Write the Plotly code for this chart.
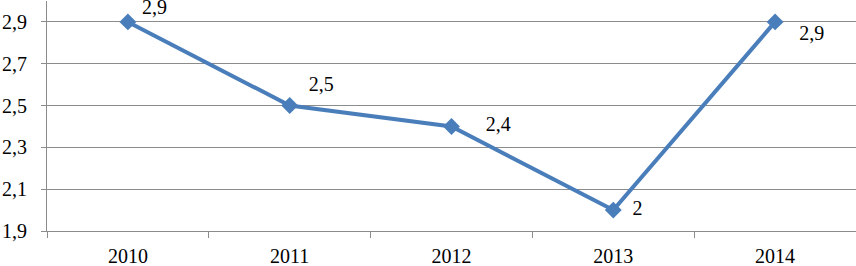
import plotly.graph_objects as go

years = ["2010", "2011", "2012", "2013", "2014"]
values = [2.9, 2.5, 2.4, 2.0, 2.9]
value_labels = ["\u00a02,9<br>\u00a0", "\u00a0\u00a02,5", "\u00a0\u00a0\u00a0\u00a0\u00a02,4",
                "\u00a0\u00a02", "\u00a0<br>\u00a0\u00a0\u00a02,9"]
y_ticks = [1.9, 2.1, 2.3, 2.5, 2.7, 2.9]
y_tick_labels = ["1,9", "2,1", "2,3", "2,5", "2,7", "2,9"]

# label placement (style)
label_pos = ["middle right", "top right", "middle right", "middle right", "middle right"]

font_family = "Liberation Serif"
line_color = "#4A7EBB"
grid_color = "#8C8C8C"

fig = go.Figure()
fig.add_trace(go.Scatter(
    x=years, y=values, mode="lines+markers+text",
    text=value_labels, textposition=label_pos,
    textfont=dict(family=font_family, size=20, color="black"),
    line=dict(color=line_color, width=4),
    marker=dict(symbol="diamond", size=13, color=line_color),
    showlegend=False, cliponaxis=False, hoverinfo="skip",
))

fig.update_layout(
    width=856, height=266,
    margin=dict(l=47, r=0, t=1, b=35),
    paper_bgcolor="white", plot_bgcolor="white",
    font=dict(family=font_family, size=20, color="black"),
)
fig.update_xaxes(
    type="category", range=[-0.5, 4.5], showgrid=False,
    showline=True, linecolor=grid_color, linewidth=1,
    ticks="outside", tickson="boundaries", ticklen=6, tickcolor=grid_color,
    tickfont=dict(family=font_family, size=20), automargin=False,
    ticklabelstandoff=7,
)
fig.update_yaxes(
    range=[1.9, 3.0], tickvals=y_ticks, ticktext=y_tick_labels,
    showgrid=True, gridcolor=grid_color, gridwidth=1,
    showline=True, linecolor=grid_color, linewidth=1,
    ticks="outside", ticklen=5, tickcolor=grid_color,
    tickfont=dict(family=font_family, size=20), zeroline=False,
    automargin=False, ticklabelstandoff=10,
)

fig.write_html("out.html", config={"displayModeBar": False},
               post_script="document.body.style.margin='0';")
